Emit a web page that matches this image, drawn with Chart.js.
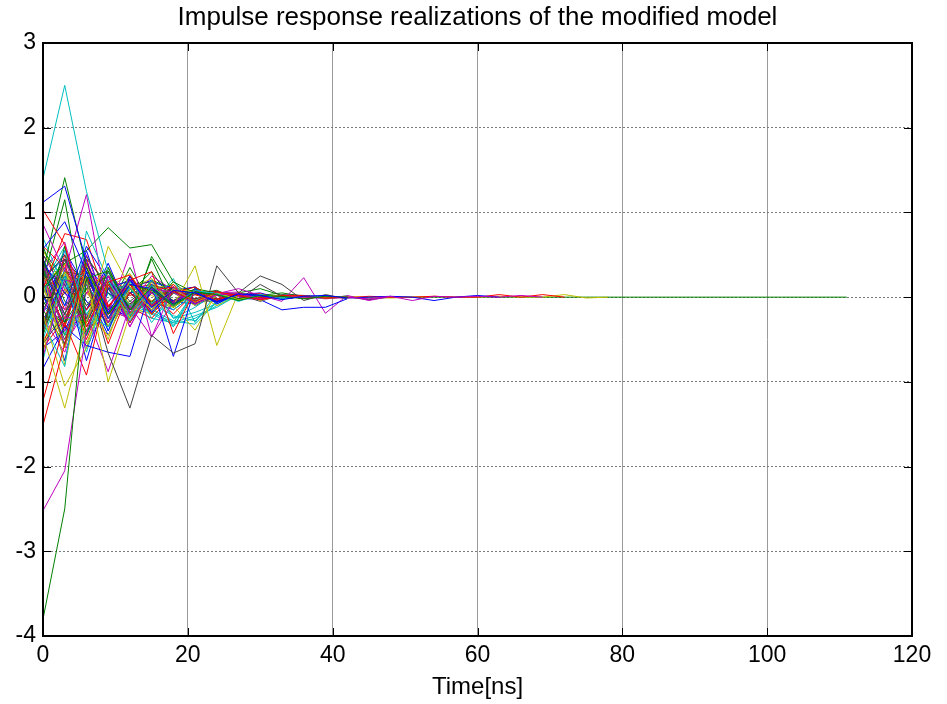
<!DOCTYPE html>
<html>
<head>
<meta charset="utf-8">
<script src="https://cdn.jsdelivr.net/npm/chart.js@4"></script>
<style>
  html, body { margin: 0; padding: 0; background: #fff; }
  #wrap { width: 947px; height: 704px; }
</style>
</head>
<body>
<div id="wrap"><canvas id="grafico" width="947" height="704"></canvas></div>
<script>
// sample times in ns (one sample every 3 ns)
const tiempo = [0, 3, 6, 9, 12, 15, 18, 21, 24, 27, 30, 33, 36, 39, 42, 45, 48, 51, 54, 57,
  60, 63, 66, 69, 72, 75, 78, 81, 84, 87, 90, 93, 96, 99, 102, 105, 108, 111];

const xTicks = [0, 20, 40, 60, 80, 100, 120];
const yTicks = [-4, -3, -2, -1, 0, 1, 2, 3];

const titulo = "Impulse response realizations of the modified model";

// realizations (values at 0, 3, 6, ... ns)
const h00 = [1.12, 1.31, 0.42, -0.18, 0.21, -0.12, 0.08, 0.05, -0.06, 0.04, 0.02, -0.03, 0.01, 0.02, -0.01];
const h01 = [-3.80, -2.50, 0.22, 0.31, -0.15, 0.12, -0.09, 0.06, 0.03, -0.04, 0.02, 0.01, -0.02, 0.01, 0.00];
const h02 = [1.03, 0.62, -0.35, 0.18, 0.26, -0.10, 0.07, -0.05, 0.06, 0.02, -0.03, 0.02, 0.01, -0.01, 0.00];
const h03 = [1.40, 2.50, 1.25, 0.30, -0.22, 0.14, -0.10, 0.08, 0.04, -0.05, 0.03, -0.02, 0.01, 0.01, -0.01];
const h04 = [-2.52, -2.05, -0.40, 0.25, -0.18, 0.10, 0.06, -0.08, 0.03, 0.04, -0.02, 0.02, -0.01, 0.01, 0.00];
const h05 = [-0.45, -1.31, -0.30, 0.60, 0.12, -0.15, 0.10, -0.06, 0.05, -0.03, 0.02, 0.02, -0.01, 0.00, 0.01];
const h06 = [0.35, -0.20, 0.25, -0.66, -1.31, -0.45, -0.66, -0.55, 0.37, 0.05, 0.25, 0.15, -0.04, 0.03, -0.02];
const h07 = [0.57, 0.89, 0.30, -0.25, 0.15, 0.10, -0.08, 0.06, -0.05, 0.03, 0.02, -0.02, 0.01, 0.00, 0.01];
const h08 = [0.30, 1.41, 0.35, -0.20, 0.15, 0.08, -0.10, 0.06, 0.03, -0.02, 0.02, 0.01, -0.01, 0.01, 0.00];
const h09 = [-1.51, -0.55, 0.40, -0.12, 0.20, 0.30, -0.43, 0.08, -0.04, 0.05, -0.02, 0.01, 0.02, -0.01, 0.00];
const h10 = [-0.30, -0.82, 0.78, 0.20, -0.28, 0.10, -0.35, 0.06, 0.05, -0.04, 0.03, -0.01, 0.01, 0.00, 0.01];
const h11 = [0.86, 0.30, 1.21, -0.20, 0.52, -0.47, 0.12, -0.06, 0.05, 0.02, -0.03, 0.01, 0.01, 0.00, -0.01];
const h12 = [0.15, -0.60, 0.25, -1.00, -0.20, 0.18, -0.10, 0.37, -0.57, 0.06, -0.04, 0.02, 0.01, -0.01, 0.00];
const h13 = [0.20, 0.50, -0.25, 0.30, -0.15, 0.12, -0.10, 0.08, -0.05, 0.04, -0.03, 0.02, -0.01, 0.01, 0.00];
const h14 = [-0.84, -0.35, -0.57, -0.65, -0.70, 0.15, -0.70, 0.10, -0.08, 0.05, -0.03, -0.15, -0.12, -0.12, -0.02];
const h15 = [0.10, 0.40, 0.55, 0.82, 0.58, 0.62, 0.18, 0.05, -0.06, 0.04, 0.02, -0.02, 0.01, 0.00, 0.01];
const h16 = [-1.22, -0.30, -0.92, 0.15, -0.20, 0.08, 0.12, -0.06, 0.04, 0.03, -0.02, 0.01, -0.01, 0.00, 0.00];
const h17 = [0.05, 0.55, -0.20, -0.35, 0.18, -0.12, -0.35, 0.10, -0.05, 0.03, 0.02, -0.02, 0.01, 0.00, 0.00];
const h18 = [0.40, -0.25, -0.20, -0.88, -0.10, -0.47, -0.05, 0.06, 0.04, 0.10, 0.02, -0.05, 0.23, -0.19, 0.02, -0.04, 0.01];
const h19 = [-0.20, -1.05, -0.60, 0.20, -0.25, 0.15, -0.10, -0.39, 0.05, -0.03, 0.02, 0.01, -0.01, 0.01, 0.00];
const h20 = [-0.55, -0.20, 0.48, 0.10, -0.22, 0.14, 0.08, -0.06, 0.05, 0.03, -0.05, 0.03, 0.02, -0.01, 0.00];
const h21 = [0.45, -0.10, 0.60, 0.20, -0.15, 0.10, -0.05, 0.07, 0.04, -0.03, 0.02, 0.01, -0.01, 0.00, 0.00];
const h22 = [0.20, 1.15, -0.30, 0.18, -0.25, 0.48, 0.06, -0.05, 0.04, 0.02, -0.02, 0.01, 0.00, 0.01, 0.00];
const h23 = [0.10, 0.75, 0.68, -0.10, 0.15, -0.20, 0.05, 0.12, -0.05, 0.03, 0.04, -0.02, 0.01, 0.00, 0.00];
const h24 = [-0.50, 0.25, -0.65, 0.15, 0.10, -0.08, 0.22, -0.30, 0.05, -0.03, 0.02, 0.01, 0.00, -0.01, 0.00];
const h25 = [-0.70, 0.20, 0.15, -0.30, 0.22, -0.10, 0.08, -0.05, 0.03, 0.03, -0.02, 0.01, -0.01, 0.00, 0.01];
const h26 = [0.30, -0.80, 0.40, -0.35, 0.18, -0.15, 0.10, 0.06, -0.04, 0.02, 0.02, -0.01, 0.01, 0.00, 0.00];
const h27 = [-0.35, 0.45, -0.10, 0.20, -0.12, 0.10, -0.07, 0.05, 0.03, -0.02, 0.02, 0.01, -0.01, 0.00, 0.00];
const h28 = [0.20, -0.60, 0.30, -0.40, 0.25, -0.18, 0.12, -0.08, 0.06, -0.04, 0.03, -0.02, 0.01, 0.01, 0.00];
const h29 = [-0.40, 0.60, -0.45, 0.35, -0.18, 0.12, -0.08, 0.10, 0.05, -0.03, 0.02, -0.01, 0.01, 0.00, 0.00];
const h30 = [0.60, 0.35, -0.15, 0.20, -0.30, 0.10, -0.06, 0.05, 0.07, -0.03, 0.02, 0.01, 0.00, 0.01, 0.00];
const h31 = [0.70, 0.10, 0.30, -0.25, 0.12, -0.30, 0.05, -0.04, 0.06, 0.03, -0.02, 0.01, 0.00, 0.00, 0.00];
const h32 = [-0.20, 0.45, -0.30, 0.25, -0.35, 0.15, -0.10, 0.07, -0.04, 0.03, 0.02, -0.01, 0.01, 0.00, 0.00];
const h33 = [0.55, 0.10, -0.20, -0.45, 0.10, 0.22, -0.12, 0.06, -0.05, 0.04, -0.02, 0.01, 0.00, 0.00, 0.00];
const h34 = [0.05, -0.50, 0.20, -0.12, 0.25, -0.08, 0.10, -0.04, -0.05, 0.03, 0.01, -0.01, 0.00, 0.00, 0.00];
const h35 = [-0.30, 0.25, -0.75, 0.10, 0.20, -0.15, 0.08, 0.12, -0.06, 0.03, 0.05, -0.02, 0.01, 0.00, 0.00];
const h36 = [0.45, -0.30, 0.10, 0.25, -0.20, 0.45, -0.12, 0.06, -0.04, 0.02, 0.03, -0.01, 0.01, 0.00, 0.00];
const h37 = [-0.60, -0.25, 0.25, -0.30, 0.05, -0.12, 0.15, -0.07, 0.04, -0.02, 0.02, 0.01, -0.01, 0.00, 0.00];
const h38 = [-0.10, -0.45, 0.15, -0.20, 0.25, -0.25, -0.30, 0.08, -0.05, 0.02, 0.03, 0.01, 0.00, 0.00, 0.00];
const h39 = [0.25, -0.40, 0.05, 0.30, -0.15, 0.05, -0.08, 0.10, -0.06, 0.04, -0.02, 0.01, 0.00, 0.00, 0.00];
const h40 = [-0.65, 0.30, -0.10, 0.15, -0.12, -0.20, 0.08, -0.04, 0.05, -0.03, 0.01, 0.02, -0.01, 0.00, 0.00];
const h41 = [0.50, 0.15, -0.40, -0.15, 0.10, 0.06, -0.10, 0.08, -0.03, 0.03, -0.02, 0.01, 0.00, 0.00, 0.00];
const h42 = [0.40, 0.05, -0.15, 0.40, -0.20, 0.18, 0.10, -0.06, 0.03, -0.02, 0.02, -0.01, 0.00, 0.00, 0.00];
const h43 = [-0.15, -0.55, 0.30, -0.20, 0.10, -0.06, 0.12, -0.05, 0.04, -0.02, 0.01, 0.01, 0.00, 0.00, 0.00];
const h44 = [0.25, -0.35, 0.45, -0.25, 0.20, 0.05, -0.10, 0.04, -0.03, 0.02, -0.01, 0.01, 0.00, 0.00, 0.00];
const h45 = [0.15, -0.20, -0.45, 0.10, -0.15, 0.20, -0.25, -0.12, 0.06, -0.03, 0.02, 0.01, 0.00, 0.00, 0.00];
const h46 = [0.30, 0.65, -0.25, -0.10, 0.12, -0.18, 0.10, -0.06, 0.02, -0.02, 0.01, 0.00, 0.01, -0.02, 0.00, -0.02, 0.01, -0.04, 0.01, 0.00, 0.01, 0.00, 0.02, 0.00];
const h47 = [-0.35, 0.40, 0.10, -0.50, 0.25, -0.05, -0.12, 0.10, 0.03, -0.04, 0.02, -0.01, 0.00, 0.00, 0.00];
const h48 = [-0.15, 0.30, 0.15, -0.35, 0.05, -0.20, 0.06, -0.08, 0.04, 0.02, -0.01, 0.01, 0.00, 0.00, 0.00];
const h49 = [0.05, -0.75, 0.35, 0.10, -0.30, 0.12, -0.06, 0.05, -0.04, 0.03, -0.02, 0.01, 0.00, 0.01, -0.01, 0.00, 0.01, 0.00, -0.04, 0.00, 0.02, 0.00];
const h50 = [0.55, 0.20, -0.35, 0.15, 0.10, -0.20, 0.05, 0.08, -0.05, 0.02, 0.01, -0.01, 0.00, 0.00, 0.00];
const h51 = [-0.40, 0.50, 0.05, -0.20, 0.15, -0.05, 0.10, -0.03, 0.02, -0.02, 0.01, 0.00, 0.01, 0.00, -0.01, 0.01, 0.00, 0.00, 0.01, 0.00, 0.00, 0.03, 0.00, 0.03, 0.00];
const h52 = [-0.75, 0.35, -0.20, 0.20, -0.10, 0.05, -0.15, 0.04, 0.03, -0.02, 0.01, 0.00, 0.00, 0.00, 0.00];
const h53 = [0.10, -0.15, 0.50, -0.15, -0.25, 0.08, 0.05, -0.07, 0.03, 0.01, -0.01, 0.00, 0.00, 0.00, 0.00];
const h54 = [0.40, -0.25, -0.30, 0.35, -0.10, 0.10, 0.15, -0.08, 0.02, 0.03, -0.01, 0.01, 0.00, 0.00, 0.01, 0.00, -0.01, 0.00, 0.01, 0.00, 0.00, 0.01, 0.00, 0.00, 0.03, -0.01, 0.00];
const h55 = [-0.25, 0.05, 0.35, -0.25, 0.15, 0.18, -0.05, 0.06, -0.03, 0.02, 0.01, -0.01, 0.00, 0.00, 0.00, -0.03, 0.00];
const h56 = [0.25, 0.45, -0.05, -0.30, 0.05, -0.10, 0.12, -0.05, 0.04, -0.02, -0.02, 0.01, 0.00, -0.01, 0.00];
const n00 = [0.35, -0.45, 0.20, 0.05, -0.18, 0.10, -0.12, 0.06, 0.04, -0.03, 0.02, 0.00, 0.01, 0.00, 0.00];
const n01 = [-0.55, 0.10, -0.30, 0.25, 0.05, -0.15, 0.10, -0.05, 0.03, 0.02, -0.02, 0.01, 0.00, 0.00, 0.00];
const n02 = [0.15, 0.60, -0.40, -0.05, 0.20, -0.08, -0.22, -0.28, -0.05, 0.02, 0.01, -0.01, 0.00, 0.00, 0.00];
const n03 = [-0.25, -0.65, 0.05, 0.15, -0.35, 0.12, -0.08, 0.05, 0.04, -0.02, 0.01, 0.00, 0.00, 0.00, 0.00];
const n04 = [0.20, 0.35, -0.55, 0.10, 0.28, -0.12, 0.05, -0.10, 0.06, 0.02, -0.02, 0.01, 0.00, 0.00, 0.00];
const n05 = [-0.10, -0.30, 0.40, -0.20, -0.05, 0.15, -0.08, 0.04, 0.02, -0.03, 0.15, 0.01, 0.00, 0.00, 0.00];
const n06 = [0.30, -0.20, -0.45, 0.15, 0.10, 0.20, -0.10, 0.05, 0.07, -0.03, 0.02, -0.01, 0.00, 0.00, 0.00];
const n07 = [-0.45, 0.30, 0.25, -0.15, 0.35, -0.10, 0.06, 0.12, -0.04, 0.03, 0.02, 0.05, 0.01, 0.00, 0.00];
const n08 = [0.45, -0.15, 0.10, -0.35, 0.18, 0.05, -0.20, 0.06, -0.02, 0.04, -0.01, 0.00, 0.00, 0.00, 0.00];
const n09 = [-0.35, 0.20, -0.30, 0.30, -0.10, -0.18, -0.30, -0.22, -0.12, 0.03, 0.01, 0.00, 0.00, 0.00, 0.00];
const n10 = [0.20, -0.55, -0.15, 0.20, -0.10, 0.25, 0.08, -0.05, 0.03, -0.02, 0.01, 0.00, 0.00, 0.00, 0.00];
const n11 = [-0.15, 0.25, -0.35, -0.20, 0.15, -0.05, 0.12, 0.05, -0.10, 0.02, -0.02, 0.01, 0.00, 0.00, 0.00];
const n12 = [0.25, 0.20, -0.15, 0.35, -0.22, 0.08, -0.04, 0.10, -0.03, 0.02, 0.01, -0.01, 0.00, 0.00, 0.00];
const n13 = [-0.60, -0.40, 0.20, -0.10, -0.25, 0.05, 0.15, -0.10, 0.02, 0.03, -0.02, 0.00, 0.01, 0.00, 0.00];
const n14 = [0.05, 0.45, 0.15, -0.25, 0.05, 0.30, -0.06, 0.04, 0.08, -0.02, 0.01, 0.00, 0.00, 0.00, 0.00];
const n15 = [0.30, -0.60, 0.30, 0.10, -0.12, -0.25, 0.05, 0.03, -0.05, 0.02, 0.00, 0.01, 0.00, 0.00, 0.00];
const n16 = [-0.05, 0.30, -0.55, 0.05, -0.30, 0.10, -0.25, -0.18, -0.08, 0.02, -0.01, 0.00, 0.00, 0.00, 0.00];
const n17 = [0.50, 0.05, -0.30, 0.25, 0.05, -0.15, 0.12, -0.08, 0.05, 0.06, -0.02, 0.01, 0.00, 0.00, 0.00];
const n18 = [-0.50, -0.20, 0.30, -0.30, 0.15, 0.02, -0.12, 0.08, -0.03, -0.02, 0.01, 0.00, 0.00, 0.00, 0.00];
const n19 = [0.15, -0.35, -0.25, 0.10, 0.20, -0.10, 0.08, -0.02, 0.04, -0.03, 0.01, 0.00, 0.00, 0.00, 0.00];
const n20 = [-0.20, 0.55, 0.10, -0.45, 0.10, -0.05, -0.15, 0.04, 0.03, -0.02, 0.01, 0.01, 0.00, 0.00, 0.00];
const n21 = [0.60, -0.05, -0.20, 0.10, -0.10, 0.20, 0.10, -0.06, 0.02, 0.05, 0.10, 0.02, 0.00, 0.00, 0.00];
const n22 = [-0.30, 0.40, -0.50, 0.15, 0.02, 0.10, -0.08, 0.03, -0.04, 0.02, 0.01, 0.00, 0.00, 0.00, 0.00];
const n23 = [0.25, -0.10, 0.20, -0.40, 0.15, -0.20, -0.32, -0.25, -0.10, 0.02, 0.00, 0.00, 0.00, 0.00, 0.00];
const n24 = [-0.40, 0.15, 0.35, -0.25, -0.15, 0.12, -0.05, 0.06, -0.03, 0.01, 0.00, 0.00, 0.00, 0.00, 0.00];
const n25 = [0.10, -0.45, 0.15, 0.25, -0.30, 0.05, 0.10, -0.04, 0.05, -0.02, 0.01, 0.00, 0.00, 0.00, 0.00];
const n26 = [-0.40, 0.25, -0.05, -0.30, 0.25, -0.12, 0.05, 0.05, -0.02, 0.02, 0.00, 0.00, 0.00, 0.00, 0.00];
const n27 = [0.35, 0.15, -0.35, 0.05, -0.10, 0.15, -0.05, -0.08, 0.06, -0.03, 0.01, 0.00, 0.00, 0.00, 0.00];
const n28 = [-0.05, -0.35, 0.45, 0.15, -0.20, -0.05, 0.18, -0.04, 0.02, 0.01, -0.01, 0.00, 0.00, 0.00, 0.00];
const n29 = [0.10, 0.25, 0.20, -0.55, 0.10, 0.15, -0.05, 0.06, -0.03, 0.01, 0.01, 0.00, 0.00, 0.00, 0.00];
const n30 = [0.45, -0.30, -0.10, 0.20, -0.20, -0.15, -0.28, -0.32, -0.06, 0.02, 0.01, 0.00, 0.00, 0.00, 0.00];
const n31 = [-0.05, 0.35, -0.60, -0.05, 0.18, -0.08, 0.10, -0.06, 0.02, -0.01, 0.01, 0.00, 0.00, 0.00, 0.00];
const n32 = [0.25, 0.05, 0.20, -0.15, -0.25, 0.20, -0.05, 0.03, 0.04, -0.02, 0.00, 0.00, 0.00, 0.00, 0.00];
const n33 = [-0.30, -0.10, 0.10, 0.25, -0.05, -0.18, 0.06, -0.02, 0.03, 0.02, -0.01, 0.00, 0.00, 0.00, 0.00];
const n34 = [0.10, -0.30, 0.55, -0.20, 0.05, 0.10, 0.05, 0.04, -0.02, 0.01, 0.00, 0.01, 0.00, 0.00, 0.00];
// last realization, drawn on top, runs to the end of the record
const h57 = [-0.10, 0.25, -0.15, 0.12, -0.08, 0.10, -0.04, 0.05, -0.03, 0.02, 0.03, -0.02, 0.01, 0.01, 0.00,
  -0.01, 0.00, 0.00, 0.00, 0.00, 0.00, 0.00, 0.00, 0.00, 0.00, 0.00, 0.00, 0.00, 0.00, 0.00,
  0.00, 0.00, 0.00, 0.00, 0.00, 0.00, 0.00, 0.00];

const realizaciones = [h00, h01, h02, h03, h04, h05, h06, h07, h08, h09, h10, h11, h12, h13, h14,
  h15, h16, h17, h18, h19, h20, h21, h22, h23, h24, h25, h26, h27, h28, h29, h30, h31, h32, h33,
  h34, h35, h36, h37, h38, h39, h40, h41, h42, h43, h44, h45, h46, h47, h48, h49, h50, h51, h52,
  h53, h54, h55, h56,
  n00, n01, n02, n03, n04, n05, n06, n07, n08, n09, n10, n11, n12, n13, n14, n15, n16, n17,
  n18, n19, n20, n21, n22, n23, n24, n25, n26, n27, n28, n29, n30, n31, n32, n33, n34,
  h57];

// MATLAB default line colour order
const colores = ["#0000ff", "#008000", "#ff0000", "#00bfbf", "#bf00bf", "#bfbf00", "#404040"];

const fuente = "'Liberation Sans', Arial, sans-serif";

// title over the axes box, box and inward tick marks, MATLAB style
const marcoPlugin = {
  id: "marco",
  afterDraw(chart) {
    const { ctx, chartArea: a, scales } = chart;
    ctx.save();
    ctx.fillStyle = "#000";
    ctx.font = "26px " + fuente;
    ctx.textAlign = "center";
    ctx.textBaseline = "middle";
    ctx.fillText(titulo, (a.left + a.right) / 2, 18);

    ctx.strokeStyle = "#000";
    ctx.lineWidth = 1;
    ctx.beginPath();
    xTicks.forEach(v => {
      const px = Math.round(scales.x.getPixelForValue(v)) + 0.5;
      ctx.moveTo(px, a.bottom); ctx.lineTo(px, a.bottom - 8);
      ctx.moveTo(px, a.top); ctx.lineTo(px, a.top + 8);
    });
    yTicks.forEach(v => {
      const py = Math.round(scales.y.getPixelForValue(v)) + 0.5;
      ctx.moveTo(a.left, py); ctx.lineTo(a.left + 8, py);
      ctx.moveTo(a.right, py); ctx.lineTo(a.right - 8, py);
    });
    ctx.stroke();
    ctx.lineWidth = 2;
    ctx.strokeRect(a.left, a.top, a.right - a.left, a.bottom - a.top);
    ctx.restore();
  }
};

new Chart(document.getElementById("grafico"), {
  type: "line",
  data: {
    labels: tiempo,
    datasets: realizaciones.map((serie, i) => ({
      data: serie,
      borderColor: colores[i % 7],
      borderWidth: 1,
      pointRadius: 0,
      tension: 0,
      fill: false
    }))
  },
  options: {
    responsive: false,
    animation: false,
    layout: { padding: { left: 0, right: 35, top: 43, bottom: 0 } },
    plugins: {
      legend: { display: false },
      tooltip: { enabled: false },
      title: { display: false }
    },
    scales: {
      x: {
        type: "linear",
        min: 0,
        max: 120,
        afterFit: s => { s.height = 68; },
        afterBuildTicks: s => { s.ticks = xTicks.map(v => ({ value: v })); },
        ticks: { color: "#000", padding: 6, maxRotation: 0, font: { family: fuente, size: 23 } },
        grid: { color: "#9a9a9a", lineWidth: 1, drawTicks: false },
        border: { display: false },
        title: {
          display: true,
          text: "Time[ns]",
          color: "#000",
          font: { family: fuente, size: 24 },
          padding: { top: 0, bottom: 2 }
        }
      },
      y: {
        min: -4,
        max: 3,
        afterFit: s => { s.width = 43; },
        afterBuildTicks: s => { s.ticks = yTicks.map(v => ({ value: v })); },
        ticks: { color: "#000", padding: 7, font: { family: fuente, size: 23 } },
        grid: { color: "#7a7a7a", lineWidth: 1, drawTicks: false },
        border: { display: false, dash: [2, 2] }
      }
    }
  },
  plugins: [marcoPlugin]
});
</script>
</body>
</html>
